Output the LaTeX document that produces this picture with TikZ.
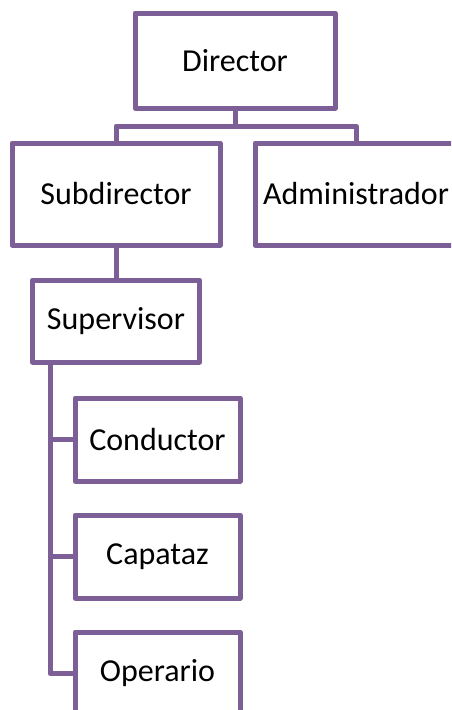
\documentclass[tikz,border=0pt]{standalone}
\usepackage{fontspec}
\setmainfont{Carlito}
\definecolor{orgline}{HTML}{7D5F97}
\begin{document}
\begin{tikzpicture}[x=1pt,y=-1pt,
  box/.style={draw=orgline,line width=5pt,rectangle,inner sep=0pt,fill=white,
    font=\fontsize{32}{38}\selectfont,text=black,line join=round},
  link/.style={draw=orgline,line width=5pt,line join=round}]
\useasboundingbox (0,0) rectangle (451,710);
\clip (0,0) rectangle (451,710);
\fill[white] (0,0) rectangle (451,710);
\node[box,minimum width=200pt,minimum height=95pt] (dir) at (235,60.5) {Director};
\node[box,minimum width=208pt,minimum height=102pt] (sub) at (116,194) {Subdirector};
\node[box,minimum width=202pt,minimum height=102pt] (adm) at (356,194) {Administrador};
\node[box,minimum width=167pt,minimum height=82pt] (sup) at (116,321) {Supervisor};
\node[box,minimum width=165pt,minimum height=83pt] (cond) at (157.5,439.5) {Conductor};
\node[box,minimum width=165pt,minimum height=83pt] (cap) at (157.5,556.5) {Capataz};
\node[box,minimum width=165pt,minimum height=83pt] (op) at (157.5,673.5) {Operario};
\coordinate (j) at (235,126);
\coordinate (t) at (50,362);
\draw[link] (dir.south) -- (j) -| (sub.north);
\draw[link] (j) -| (adm.north);
\draw[link] (sub.south) -- (sup.north);
\draw[link] (t) |- (cond.west);
\draw[link] (t) |- (cap.west);
\draw[link] (t) |- (op.west);
\end{tikzpicture}
\end{document}
